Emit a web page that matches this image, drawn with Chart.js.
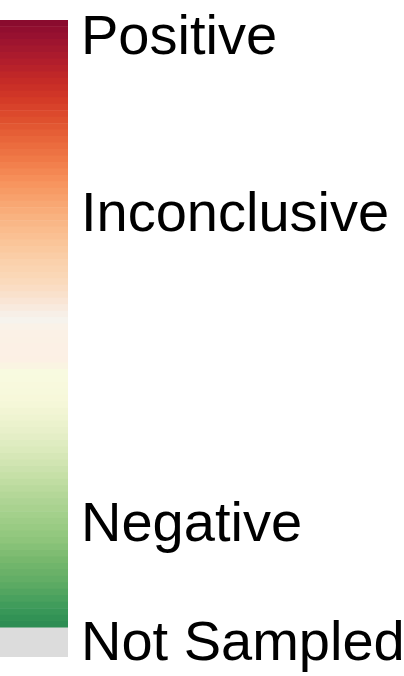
<!DOCTYPE html>
<html>
<head>
<meta charset="utf-8">
<script src="https://cdn.jsdelivr.net/npm/chart.js@4/dist/chart.umd.min.js"></script>
<style>
  html, body { margin: 0; padding: 0; background: #ffffff; }
  canvas { display: block; }
</style>
</head>
<body>
<canvas id="c" width="404" height="676"></canvas>
<script>
// ---- data ----
const categories = ['Result'];
const legendLabels = ['Positive', 'Inconclusive', 'Negative', 'Not Sampled'];
const legendTickValues = [95.7, 68.2, 20.3, 2.0];     // where each label sits on the scale
const notSampledValue = 4.5;                          // height of the grey "not sampled" block
const bandCount = 94;                                 // colour steps in the gradient bar
const bandValues = new Array(bandCount).fill(1);      // each step is one unit tall
const scaleMax = notSampledValue + bandCount;

// ---- style: colour stops (t = 0 top, 1 bottom) ----
const stopT = [0, .033, .066, .099, .132, .164, .197, .230, .263, .296, .329, .362, .395, .428, .461, .480, .493, .510, .563, .579, .625, .658, .691, .724, .757, .789, .822, .855, .888, .921, .954, .979, 1];
const stopC = ['#870a2e', '#9b1330', '#b01d2c', '#c42a27', '#d43a27', '#df4f2e', '#e8653a', '#f07a48', '#f6905a', '#f8a36e', '#f9b483', '#fac396', '#fad0aa', '#fad9ba', '#f9e4d3', '#f7ede4', '#f6f3ee', '#fbf1e6', '#fcf0e4', '#f8fae0', '#f7f8da', '#eef3d0', '#e2edc4', '#d3e6b4', '#c2dea4', '#b0d595', '#9fce88', '#8fc67c', '#77b86d', '#63ae66', '#47a05d', '#349456', '#2a8a52'];
const notSampledColor = '#dcdcdc';

function hexToRgb(h) { return [parseInt(h.slice(1,3),16), parseInt(h.slice(3,5),16), parseInt(h.slice(5,7),16)]; }
function colorAt(t) {
  let k = 0;
  while (k < stopT.length - 2 && t > stopT[k + 1]) k++;
  const f = Math.max(0, Math.min(1, (t - stopT[k]) / (stopT[k + 1] - stopT[k])));
  const a = hexToRgb(stopC[k]), b = hexToRgb(stopC[k + 1]);
  const c = a.map((v, i) => Math.round(v + (b[i] - v) * f));
  return `rgb(${c[0]},${c[1]},${c[2]})`;
}

const datasets = [{
  label: 'Not Sampled',
  data: [notSampledValue],
  backgroundColor: notSampledColor,
  borderWidth: 0
}];
bandValues.forEach((v, i) => {
  const tCenter = 1 - (i + 0.5) / bandCount;   // i = 0 is the bottom band
  datasets.push({
    label: 'band' + i,
    data: [v],
    backgroundColor: colorAt(tCenter),
    borderWidth: 0
  });
});

new Chart(document.getElementById('c'), {
  type: 'bar',
  data: { labels: categories, datasets },
  options: {
    responsive: false,
    animation: false,
    devicePixelRatio: 1,
    layout: { padding: { top: 20, bottom: 19, left: 0, right: 0 } },
    datasets: { bar: { barPercentage: 1, categoryPercentage: 1 } },
    plugins: { legend: { display: false }, tooltip: { enabled: false } },
    scales: {
      x: { display: false, stacked: true },
      y: {
        stacked: true,
        position: 'right',
        min: 0,
        max: scaleMax,
        grid: { display: false, drawTicks: false },
        border: { display: false },
        ticks: {
          autoSkip: false,
          padding: 13,
          color: '#000000',
          font: { family: "'Liberation Sans', Arial, sans-serif", size: 56 },
          callback: (value) => {
            const idx = legendTickValues.indexOf(value);
            return idx >= 0 ? legendLabels[idx] : '';
          }
        },
        afterBuildTicks: (scale) => {
          scale.ticks = legendTickValues.map(v => ({ value: v }));
        },
        afterFit: (scale) => {
          scale.width = 404 - 68;
          scale.paddingTop = 0;
          scale.paddingBottom = 0;
        }
      }
    }
  }
});
</script>
</body>
</html>
